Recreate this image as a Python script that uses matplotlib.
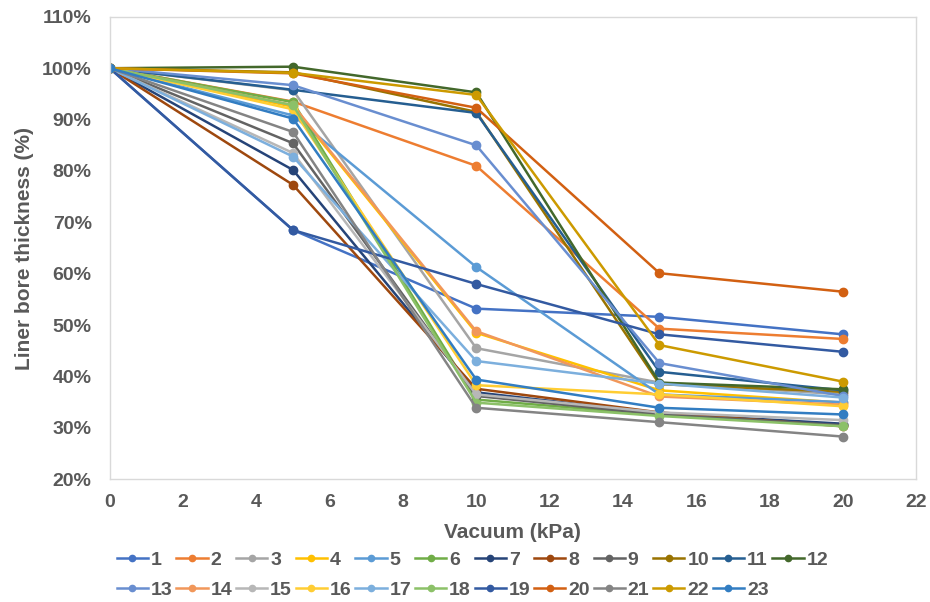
import matplotlib
matplotlib.use("Agg")
import matplotlib.pyplot as plt
from matplotlib.ticker import PercentFormatter

plt.rcParams['font.family'] = ['Liberation Sans', 'DejaVu Sans']

vacuum = [0, 5, 10, 15, 20]

s1 = [100, 68.5, 53.2, 51.6, 48.2]
s2 = [100, 93.5, 81.0, 49.3, 47.3]
s3 = [100, 95.7, 45.5, 38.8, 36.5]
s4 = [100, 92.5, 48.5, 37.3, 34.9]
s5 = [100, 90.8, 61.3, 36.5, 35.0]
s6 = [100, 93.4, 35.5, 32.5, 30.6]
s7 = [100, 80.2, 36.9, 32.8, 30.8]
s8 = [100, 77.3, 37.6, 33.0, 30.3]
s9 = [100, 85.4, 36.2, 32.6, 30.5]
s10 = [100, 99.2, 91.5, 38.5, 37.0]
s11 = [100, 95.8, 91.3, 40.9, 37.3]
s12 = [100, 100.3, 95.3, 38.8, 37.5]
s13 = [100, 96.7, 85.0, 42.6, 36.2]
s14 = [100, 92.8, 48.8, 36.1, 34.5]
s15 = [100, 83.5, 36.5, 33.0, 31.5]
s16 = [100, 92.0, 38.3, 36.5, 34.2]
s17 = [100, 82.8, 43.0, 38.6, 35.9]
s18 = [100, 92.8, 34.9, 32.3, 30.3]
s19 = [100, 68.5, 58.0, 48.2, 44.8]
s20 = [100, 99.0, 92.3, 60.1, 56.5]
s21 = [100, 87.6, 33.9, 31.1, 28.3]
s22 = [100, 99.1, 94.8, 46.1, 39.0]
s23 = [100, 90.2, 39.4, 33.9, 32.6]

series_names = [str(i) for i in range(1, 24)]
series = [s1, s2, s3, s4, s5, s6, s7, s8, s9, s10, s11, s12,
          s13, s14, s15, s16, s17, s18, s19, s20, s21, s22, s23]
colors = ['#4472C4', '#ED7D31', '#A5A5A5', '#FFC000', '#5B9BD5', '#70AD47',
          '#264478', '#9E480E', '#636363', '#997300', '#255E91', '#43682B',
          '#698ED0', '#F1975A', '#B7B7B7', '#FFCD33', '#7CAFDD', '#8CC168',
          '#335AA1', '#D26012', '#848484', '#CC9A00', '#327DC2']

txt = '#595959'
fig = plt.figure(figsize=(9.3, 6.02), dpi=100)
ax = fig.add_axes([0.118, 0.204, 0.867, 0.768])

handles = []
for name, vals, c in zip(series_names, series, colors):
    h, = ax.plot(vacuum, vals, color=c, lw=1.8, marker='o', ms=6, label=name)
    handles.append(h)

ax.set_xlim(0, 22)
ax.set_ylim(20, 110)
ax.set_xticks(range(0, 23, 2))
ax.set_yticks(range(20, 111, 10))
ax.yaxis.set_major_formatter(PercentFormatter(decimals=0))
for sp in ax.spines.values():
    sp.set_color('#D9D9D9')
    sp.set_linewidth(1)
ax.tick_params(length=0, labelsize=14, labelcolor=txt)
ax.tick_params(axis='x', pad=11)
ax.tick_params(axis='y', pad=13)
for lab in ax.get_xticklabels() + ax.get_yticklabels():
    lab.set_fontweight('bold')

ax.set_xlabel('Vacuum (kPa)', fontsize=15, fontweight='bold', color=txt, labelpad=8)
ax.set_ylabel('Liner bore thickness (%)', fontsize=15, fontweight='bold', color=txt, labelpad=6)

# row-major ordering for a 2-row, 12-column legend
ncol = 12
order = []
for j in range(ncol):
    order.append(j)
    if j + ncol < len(handles):
        order.append(j + ncol)
leg = fig.legend([handles[i] for i in order], [series_names[i] for i in order],
                 loc='lower center', bbox_to_anchor=(0.508, -0.024), ncol=ncol,
                 frameon=False, fontsize=14, handlelength=1.6, handletextpad=0.15,
                 columnspacing=0.2, labelspacing=0.65, markerscale=0.75)
for t in leg.get_texts():
    t.set_color(txt)
    t.set_fontweight('bold')

fig.savefig('out.png', dpi=100)
